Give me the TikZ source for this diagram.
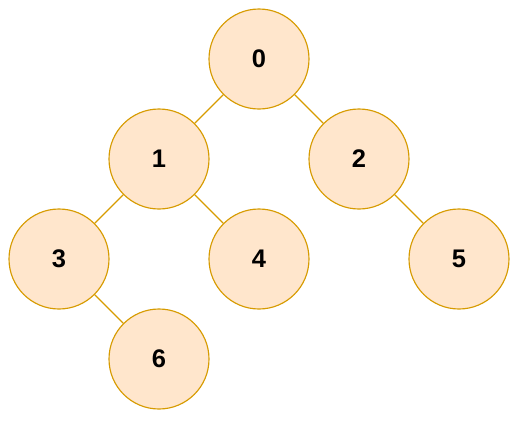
\documentclass[tikz,border=0pt]{standalone}
\usepackage{fontspec}
\setmainfont{Liberation Sans}
\usepackage{tikz}
\usetikzlibrary{positioning}
\definecolor{nodefill}{HTML}{FFE6CC}
\definecolor{nodeline}{HTML}{D79B00}
\tikzstyle{treenode} = [circle,
minimum size=2cm,
inner sep=0pt,
text centered,
draw=nodeline,
line width=0.65pt,
fill=nodefill,
font=\fontsize{14.5}{16}\selectfont\bfseries]
\tikzstyle{link} = [draw=nodeline, line width=0.65pt]

\begin{document}
\begin{tikzpicture}
\useasboundingbox (0,0) rectangle (10.5,-8.42);

% Nodes
\node (n0) [treenode] at (5.18,-1.18) {0};
\node (n1) [treenode] at (3.18,-3.18) {1};
\node (n2) [treenode] at (7.18,-3.18) {2};
\node (n3) [treenode] at (1.18,-5.18) {3};
\node (n4) [treenode] at (5.18,-5.18) {4};
\node (n5) [treenode] at (9.18,-5.18) {5};
\node (n6) [treenode] at (3.18,-7.18) {6};

% Links
\draw [link] (n0) -- (n1);
\draw [link] (n0) -- (n2);
\draw [link] (n1) -- (n3);
\draw [link] (n1) -- (n4);
\draw [link] (n2) -- (n5);
\draw [link] (n3) -- (n6);

\end{tikzpicture}
\end{document}
